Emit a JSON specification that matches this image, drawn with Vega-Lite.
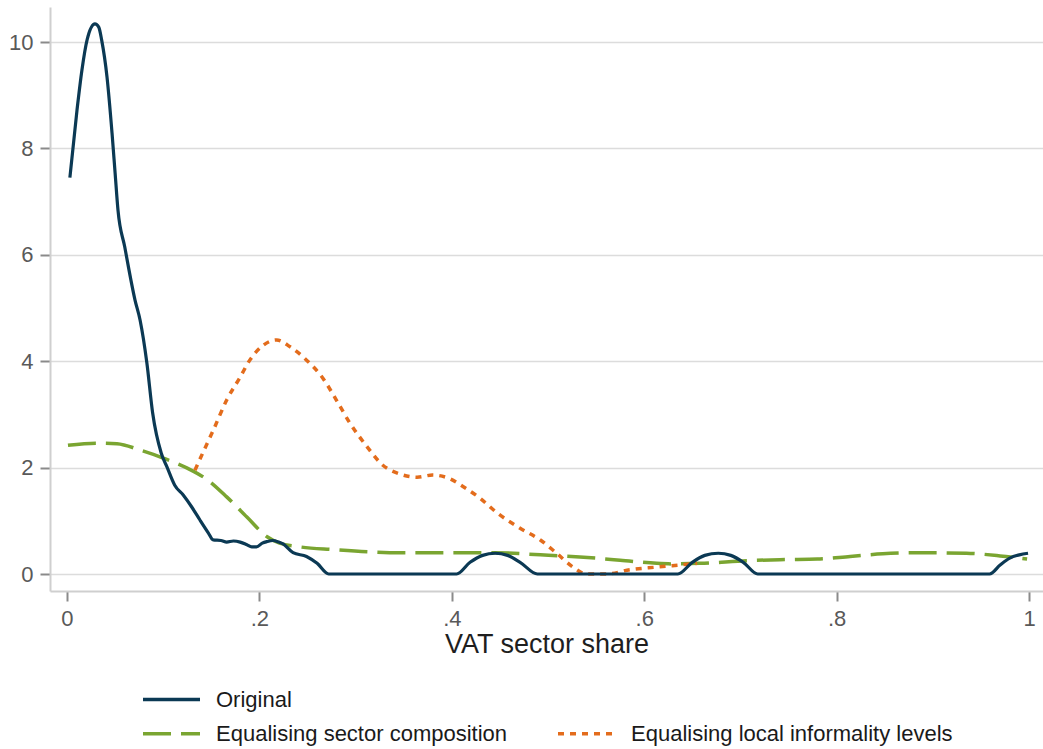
{
  "$schema": "https://vega.github.io/schema/vega-lite/v6.json",
  "description": "Density of VAT sector share: original vs counterfactuals.",
  "autosize": "none",
  "padding": {"left": 50, "top": 7, "right": 0, "bottom": 158},
  "width": 993,
  "height": 584,
  "background": "white",
  "data": {
    "values": [
      {"series": "Original", "x": 0.003, "y": 7.45},
      {"series": "Original", "x": 0.0104, "y": 8.72},
      {"series": "Original", "x": 0.0155, "y": 9.47},
      {"series": "Original", "x": 0.021, "y": 10.05},
      {"series": "Original", "x": 0.029, "y": 10.34},
      {"series": "Original", "x": 0.033, "y": 10.28},
      {"series": "Original", "x": 0.036, "y": 10.04},
      {"series": "Original", "x": 0.0416, "y": 9.34},
      {"series": "Original", "x": 0.0468, "y": 8.29},
      {"series": "Original", "x": 0.05, "y": 7.54},
      {"series": "Original", "x": 0.053, "y": 6.84},
      {"series": "Original", "x": 0.06, "y": 6.15},
      {"series": "Original", "x": 0.0707, "y": 5.15},
      {"series": "Original", "x": 0.076, "y": 4.77},
      {"series": "Original", "x": 0.083, "y": 3.97},
      {"series": "Original", "x": 0.089, "y": 3.03},
      {"series": "Original", "x": 0.098, "y": 2.27},
      {"series": "Original", "x": 0.104, "y": 2.01},
      {"series": "Original", "x": 0.112, "y": 1.67},
      {"series": "Original", "x": 0.121, "y": 1.48},
      {"series": "Original", "x": 0.13, "y": 1.25},
      {"series": "Original", "x": 0.138, "y": 1.02},
      {"series": "Original", "x": 0.147, "y": 0.77},
      {"series": "Original", "x": 0.152, "y": 0.64},
      {"series": "Original", "x": 0.16, "y": 0.63},
      {"series": "Original", "x": 0.166, "y": 0.6},
      {"series": "Original", "x": 0.173, "y": 0.62},
      {"series": "Original", "x": 0.18, "y": 0.6},
      {"series": "Original", "x": 0.187, "y": 0.55},
      {"series": "Original", "x": 0.192, "y": 0.51},
      {"series": "Original", "x": 0.197, "y": 0.51},
      {"series": "Original", "x": 0.203, "y": 0.58},
      {"series": "Original", "x": 0.208, "y": 0.61},
      {"series": "Original", "x": 0.214, "y": 0.63},
      {"series": "Original", "x": 0.22, "y": 0.6},
      {"series": "Original", "x": 0.225, "y": 0.56},
      {"series": "Original", "x": 0.235, "y": 0.4},
      {"series": "Original", "x": 0.249, "y": 0.33},
      {"series": "Original", "x": 0.26, "y": 0.2},
      {"series": "Original", "x": 0.272, "y": 0},
      {"series": "Original", "x": 0.405, "y": 0},
      {"series": "Original", "x": 0.419, "y": 0.22},
      {"series": "Original", "x": 0.432, "y": 0.35},
      {"series": "Original", "x": 0.445, "y": 0.39},
      {"series": "Original", "x": 0.458, "y": 0.35},
      {"series": "Original", "x": 0.471, "y": 0.22},
      {"series": "Original", "x": 0.489, "y": 0},
      {"series": "Original", "x": 0.635, "y": 0},
      {"series": "Original", "x": 0.65, "y": 0.22},
      {"series": "Original", "x": 0.663, "y": 0.35},
      {"series": "Original", "x": 0.677, "y": 0.39},
      {"series": "Original", "x": 0.69, "y": 0.35},
      {"series": "Original", "x": 0.703, "y": 0.22},
      {"series": "Original", "x": 0.718, "y": 0},
      {"series": "Original", "x": 0.959, "y": 0},
      {"series": "Original", "x": 0.97, "y": 0.17},
      {"series": "Original", "x": 0.98, "y": 0.3},
      {"series": "Original", "x": 0.99, "y": 0.36},
      {"series": "Original", "x": 0.999, "y": 0.39},

      {"series": "Equalising sector composition", "x": 0.001, "y": 2.42},
      {"series": "Equalising sector composition", "x": 0.031, "y": 2.46},
      {"series": "Equalising sector composition", "x": 0.052, "y": 2.45},
      {"series": "Equalising sector composition", "x": 0.076, "y": 2.33},
      {"series": "Equalising sector composition", "x": 0.1, "y": 2.18},
      {"series": "Equalising sector composition", "x": 0.125, "y": 1.99},
      {"series": "Equalising sector composition", "x": 0.146, "y": 1.77},
      {"series": "Equalising sector composition", "x": 0.166, "y": 1.45},
      {"series": "Equalising sector composition", "x": 0.187, "y": 1.07},
      {"series": "Equalising sector composition", "x": 0.208, "y": 0.7},
      {"series": "Equalising sector composition", "x": 0.221, "y": 0.58},
      {"series": "Equalising sector composition", "x": 0.242, "y": 0.51},
      {"series": "Equalising sector composition", "x": 0.277, "y": 0.46},
      {"series": "Equalising sector composition", "x": 0.312, "y": 0.42},
      {"series": "Equalising sector composition", "x": 0.346, "y": 0.4},
      {"series": "Equalising sector composition", "x": 0.395, "y": 0.4},
      {"series": "Equalising sector composition", "x": 0.445, "y": 0.4},
      {"series": "Equalising sector composition", "x": 0.492, "y": 0.36},
      {"series": "Equalising sector composition", "x": 0.533, "y": 0.32},
      {"series": "Equalising sector composition", "x": 0.575, "y": 0.26},
      {"series": "Equalising sector composition", "x": 0.613, "y": 0.2},
      {"series": "Equalising sector composition", "x": 0.63, "y": 0.19},
      {"series": "Equalising sector composition", "x": 0.658, "y": 0.2},
      {"series": "Equalising sector composition", "x": 0.707, "y": 0.25},
      {"series": "Equalising sector composition", "x": 0.741, "y": 0.27},
      {"series": "Equalising sector composition", "x": 0.78, "y": 0.28},
      {"series": "Equalising sector composition", "x": 0.814, "y": 0.33},
      {"series": "Equalising sector composition", "x": 0.848, "y": 0.38},
      {"series": "Equalising sector composition", "x": 0.89, "y": 0.4},
      {"series": "Equalising sector composition", "x": 0.935, "y": 0.39},
      {"series": "Equalising sector composition", "x": 0.97, "y": 0.34},
      {"series": "Equalising sector composition", "x": 0.998, "y": 0.28},

      {"series": "Equalising local informality levels", "x": 0.133, "y": 1.95},
      {"series": "Equalising local informality levels", "x": 0.141, "y": 2.27},
      {"series": "Equalising local informality levels", "x": 0.152, "y": 2.7},
      {"series": "Equalising local informality levels", "x": 0.166, "y": 3.27},
      {"series": "Equalising local informality levels", "x": 0.18, "y": 3.7},
      {"series": "Equalising local informality levels", "x": 0.19, "y": 4.02},
      {"series": "Equalising local informality levels", "x": 0.204, "y": 4.3},
      {"series": "Equalising local informality levels", "x": 0.218, "y": 4.4},
      {"series": "Equalising local informality levels", "x": 0.232, "y": 4.27},
      {"series": "Equalising local informality levels", "x": 0.249, "y": 4.02},
      {"series": "Equalising local informality levels", "x": 0.266, "y": 3.68},
      {"series": "Equalising local informality levels", "x": 0.28, "y": 3.27},
      {"series": "Equalising local informality levels", "x": 0.294, "y": 2.84},
      {"series": "Equalising local informality levels", "x": 0.312, "y": 2.39},
      {"series": "Equalising local informality levels", "x": 0.328, "y": 2.05},
      {"series": "Equalising local informality levels", "x": 0.346, "y": 1.88},
      {"series": "Equalising local informality levels", "x": 0.364, "y": 1.82},
      {"series": "Equalising local informality levels", "x": 0.38, "y": 1.86},
      {"series": "Equalising local informality levels", "x": 0.398, "y": 1.79},
      {"series": "Equalising local informality levels", "x": 0.412, "y": 1.64},
      {"series": "Equalising local informality levels", "x": 0.429, "y": 1.43},
      {"series": "Equalising local informality levels", "x": 0.447, "y": 1.15},
      {"series": "Equalising local informality levels", "x": 0.471, "y": 0.86},
      {"series": "Equalising local informality levels", "x": 0.492, "y": 0.64},
      {"series": "Equalising local informality levels", "x": 0.509, "y": 0.39},
      {"series": "Equalising local informality levels", "x": 0.526, "y": 0.13},
      {"series": "Equalising local informality levels", "x": 0.54, "y": 0},
      {"series": "Equalising local informality levels", "x": 0.561, "y": 0},
      {"series": "Equalising local informality levels", "x": 0.585, "y": 0.08},
      {"series": "Equalising local informality levels", "x": 0.613, "y": 0.13},
      {"series": "Equalising local informality levels", "x": 0.637, "y": 0.17},
      {"series": "Equalising local informality levels", "x": 0.655, "y": 0.2}
    ]
  },
  "encoding": {
    "x": {
      "field": "x",
      "type": "quantitative",
      "scale": {"domain": [-0.01767, 1.01455], "nice": false, "zero": false},
      "axis": {
        "values": [0, 0.2, 0.4, 0.6, 0.8, 1],
        "format": ".1~f",
        "labelExpr": "datum.value > 0 && datum.value < 1 ? slice(datum.label, 1) : datum.label",
        "grid": false,
        "title": "VAT sector share",
        "titleFontSize": 27,
        "titleFontWeight": "normal",
        "titleColor": "#1e1e1e",
        "titlePadding": 2,
        "labelPadding": 7
      }
    },
    "y": {
      "field": "y",
      "type": "quantitative",
      "scale": {"domain": [-0.3195, 10.658], "nice": false, "zero": false},
      "axis": {
        "values": [0, 2, 4, 6, 8, 10],
        "grid": true,
        "title": null,
        "labelPadding": 7
      }
    }
  },
  "layer": [
    {
      "transform": [{"filter": "datum.series == 'Equalising sector composition' || datum.series == 'Equalising local informality levels'"}],
      "mark": {"type": "line", "interpolate": "monotone", "strokeWidth": 3.5, "strokeCap": "butt", "clip": true},
      "encoding": {
        "stroke": {
          "field": "series",
          "type": "nominal",
          "scale": {
            "domain": ["Equalising sector composition", "Equalising local informality levels"],
            "range": ["#7aa531", "#e36c1c"]
          },
          "legend": {
            "orient": "none",
            "legendX": 91,
            "legendY": 696,
            "columns": 2,
            "columnPadding": 43,
            "title": null
          }
        },
        "strokeDash": {
          "field": "series",
          "type": "nominal",
          "scale": {
            "domain": ["Equalising sector composition", "Equalising local informality levels"],
            "range": [[28, 10], [6, 6]]
          },
          "legend": {
            "orient": "none",
            "legendX": 91,
            "legendY": 696,
            "columns": 2,
            "columnPadding": 43,
            "title": null
          }
        }
      }
    },
    {
      "transform": [{"filter": "datum.series == 'Original'"}],
      "mark": {"type": "line", "interpolate": "monotone", "strokeWidth": 3.2, "clip": true},
      "encoding": {
        "color": {
          "field": "series",
          "type": "nominal",
          "scale": {"domain": ["Original"], "range": ["#0b3954"]},
          "legend": {
            "orient": "none",
            "legendX": 91,
            "legendY": 662,
            "title": null
          }
        }
      }
    }
  ],
  "config": {
    "font": "Liberation Sans",
    "view": {"stroke": null},
    "axis": {
      "labelFont": "Liberation Sans",
      "labelFontSize": 22,
      "labelColor": "#595959",
      "domainColor": "#cfcfcf",
      "domainWidth": 2,
      "tickColor": "#8a8a8a",
      "tickWidth": 2,
      "tickSize": 10,
      "gridColor": "#dcdcdc",
      "gridWidth": 1.5,
      "titleFont": "Liberation Sans"
    },
    "legend": {
      "labelFont": "Liberation Sans",
      "labelFontSize": 22,
      "labelColor": "#1a1a1a",
      "labelLimit": 500,
      "symbolType": "stroke",
      "symbolSize": 3249,
      "symbolStrokeWidth": 3.5,
      "labelOffset": 14,
      "padding": 0
    }
  }
}
